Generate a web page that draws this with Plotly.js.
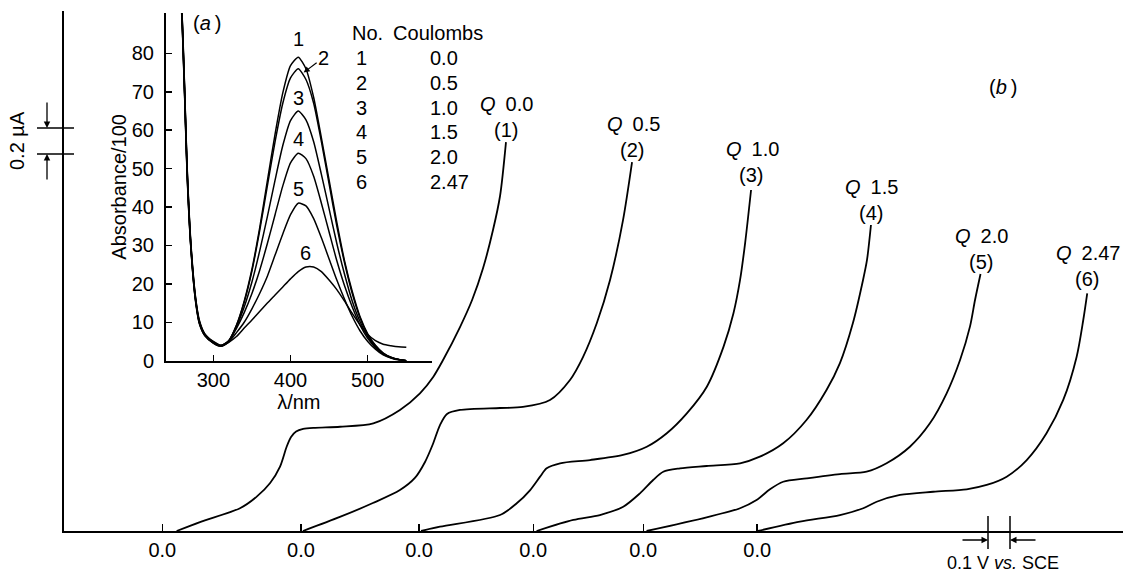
<!DOCTYPE html>
<html><head><meta charset="utf-8">
<script src="https://cdn.plot.ly/plotly-3.0.1.min.js"></script>
<style>html,body{margin:0;padding:0;background:#fff}#chart{width:1123px;height:575px}</style>
</head><body><div id="chart"></div>
<script>
// ---------- (b) polarograms: potential (V, relative to each curve's own 0.0) and current (µA) ----------
const runNumbers = [1, 2, 3, 4, 5, 6];
const coulombs = ['0.0', '0.5', '1.0', '1.5', '2.0', '2.47'];
// position of each curve's "0.0" on the common potential axis (V)
const zeroPositions = [0.447, 1.077, 1.614, 2.133, 2.633, 3.151];
const zeroTickLabels = ['0.0', '0.0', '0.0', '0.0', '0.0', '0.0'];

const potential1 = [0.065,0.171,0.353,0.429,0.490,0.535,0.565,0.585,0.608,0.640,0.694,0.808,0.959,1.080,1.171,1.232,1.276,1.353,1.408,1.458,1.503,1.535,1.562];
const current1   = [0,0.069,0.175,0.264,0.369,0.495,0.648,0.723,0.765,0.785,0.794,0.802,0.828,0.931,1.059,1.187,1.315,1.569,1.777,2.023,2.315,2.577,2.992];
const potential2 = [0.009,0.177,0.327,0.450,0.518,0.564,0.600,0.632,0.664,0.723,0.905,1.009,1.132,1.223,1.282,1.345,1.405,1.464,1.505];
const current2   = [0,0.108,0.215,0.315,0.408,0.531,0.669,0.815,0.900,0.931,0.946,0.954,1.008,1.162,1.338,1.600,1.931,2.392,2.838];
const potential3 = [0.009,0.095,0.368,0.444,0.505,0.550,0.580,0.641,0.777,0.927,1.035,1.126,1.217,1.308,1.384,1.429,1.459,1.482,1.509];
const current3   = [0,0.033,0.123,0.213,0.315,0.418,0.482,0.521,0.546,0.585,0.648,0.752,0.905,1.110,1.418,1.675,1.931,2.215,2.623];
const potential4 = [0.015,0.182,0.303,0.409,0.485,0.545,0.591,0.667,0.788,0.940,1.030,1.136,1.242,1.333,1.394,1.453,1.499,1.517,1.535];
const current4   = [0,0.085,0.123,0.187,0.290,0.392,0.456,0.482,0.500,0.521,0.572,0.675,0.854,1.085,1.292,1.600,1.931,2.085,2.354];
const potential5 = [0.015,0.288,0.440,0.515,0.576,0.636,0.743,0.894,1.015,1.106,1.212,1.303,1.379,1.440,1.485,1.508,1.533];
const current5   = [0,0.105,0.175,0.238,0.321,0.379,0.405,0.438,0.456,0.521,0.648,0.828,1.059,1.315,1.572,1.777,1.977];
const potential6 = [0.003,0.194,0.376,0.482,0.543,0.649,0.800,0.952,1.043,1.134,1.225,1.315,1.391,1.452,1.482,1.500];
const current6   = [0,0.072,0.123,0.175,0.225,0.277,0.302,0.321,0.354,0.418,0.546,0.752,1.008,1.341,1.623,1.828];

// ---------- (a) absorption spectra ----------
const wavelength = [257,260,263,266,271,277,282,289,300,310,320,330,340,350,360,370,380,390,400,410,420,430,440,450,460,470,480,490,500,510,520,530,540,550];
const absorbance1 = [100,88,70,51,30.5,16.5,10.5,7,5,4,5.2,9.2,15.5,23.8,34.5,46.8,59,69.7,76.8,79,76,68.5,58,47,36,26,18,11.5,7,4,2,0.9,0.3,0];
const absorbance2 = [100,87.5,69.5,50.5,30,16.2,10.2,6.9,4.9,4,5.2,9.2,15.2,23.3,33.8,45.5,57,67,73.6,76,73.2,67,57,46,35,25.5,17.5,11.2,6.8,3.9,2,0.9,0.3,0];
const absorbance3 = [100,87,69,50,29.8,16,10,6.8,4.8,3.9,5.1,8.9,14,20.5,28.5,37.5,47,56,62.5,65,62.7,57,48.5,39.5,30.5,22.5,15.5,10.2,6.3,3.6,1.8,0.8,0.3,0];
const absorbance4 = [100,86.5,68.5,49.5,29.5,15.8,9.9,6.7,4.7,3.8,5,8.4,12.5,17.5,23.5,30.5,38,45.5,51.5,54,52.6,48,41,33.5,26,19.5,14,9.3,5.8,3.4,1.7,0.8,0.3,0];
const absorbance5 = [100,86,68,49,29.2,15.6,9.7,6.6,4.6,3.8,4.9,7.3,10,13.5,17.5,22,27.5,33,38,41,40.3,37,32,26.5,21,16,11.5,7.8,5,3,1.5,0.7,0.2,0];
const absorbance6 = [100,85.5,67.5,48.5,29,15.4,9.6,6.5,4.6,3.8,4.8,6.3,8.5,10.6,12.8,15,17.1,19.2,21.3,23.2,24.4,24.4,23.2,21,18.5,15.5,12.3,9.3,6.8,5.2,4.3,3.9,3.6,3.5];
const absTicks = [0,10,20,30,40,50,60,70,80];
const wlTicks = [300,400,500];

// ---------- build ----------
const potentials = [potential1,potential2,potential3,potential4,potential5,potential6];
const currents = [current1,current2,current3,current4,current5,current6];
const spectra = [absorbance1,absorbance2,absorbance3,absorbance4,absorbance5,absorbance6];

const W = 1123, H = 575;
const px = x => x / W;
const py = y => 1 - y / H;
const FONT = 'Liberation Sans, Arial, Helvetica, sans-serif';

const traces = [];
potentials.forEach((pot, k) => {
  traces.push({
    type: 'scatter', mode: 'lines', xaxis: 'x', yaxis: 'y',
    x: pot.map(e => zeroPositions[k] + e), y: currents[k],
    line: {color: '#000', width: 1.8, shape: 'spline', smoothing: 0.8},
    hoverinfo: 'skip'
  });
});
spectra.forEach(a => {
  traces.push({
    type: 'scatter', mode: 'lines', xaxis: 'x2', yaxis: 'y2',
    x: wavelength, y: a,
    line: {color: '#000', width: 1.5, shape: 'spline', smoothing: 0.6},
    hoverinfo: 'skip'
  });
});

const ann = [];
const txt = (x, y, text, extra) => Object.assign({xref: 'paper', yref: 'paper', x: px(x), y: py(y), text, showarrow: false, xanchor: 'center', yanchor: 'middle', font: {size: 20, color: '#000', family: FONT}}, extra || {});

// curve labels (b)
const nShift = [12, 12, 15, 12, 12, 14];
potentials.forEach((pot, k) => {
  const xe = zeroPositions[k] + pot[pot.length - 1];
  const ye = currents[k][currents[k].length - 1];
  ann.push({xref: 'x', yref: 'y', x: xe, y: ye, yshift: nShift[k], text: '(' + runNumbers[k] + ')', showarrow: false, yanchor: 'middle', font: {size: 20, family: FONT}});
  ann.push({xref: 'x', yref: 'y', x: xe, y: ye, yshift: nShift[k] + 26, xshift: 1, text: '<i>Q</i>\u2002' + coulombs[k], showarrow: false, yanchor: 'middle', font: {size: 20, family: FONT}});
});
// inset curve numbers
const inShift = [18, 0, 13, 14, 14, 14];
spectra.forEach((a, k) => {
  if (k === 1) return;
  const m = Math.max(...a.slice(8));
  const i = a.indexOf(m, 8);
  ann.push({xref: 'x2', yref: 'y2', x: wavelength[i], y: m, yshift: inShift[k], text: String(runNumbers[k]), showarrow: false, yanchor: 'middle', font: {size: 20, family: FONT}});
});
// "2" with arrow
ann.push({xref: 'x2', yref: 'y2', x: 417, y: 75, ax: 20, ay: -15, text: String(runNumbers[1]), showarrow: true, arrowhead: 2, arrowsize: 1, arrowwidth: 1.2, arrowcolor: '#000', font: {size: 20, family: FONT}});

// legend table
ann.push(txt(350, 33, 'No.\u2002Coulombs', {xanchor: 'left'}));
runNumbers.forEach((n, i) => {
  ann.push(txt(354, 58 + 24.8 * i, String(n), {xanchor: 'left'}));
  ann.push(txt(428, 58 + 24.8 * i, coulombs[i], {xanchor: 'left'}));
});
// panel labels
ann.push(txt(207, 23, '(<i>a</i>\u2009)'));
ann.push(txt(1003, 87, '(<i>b</i>\u2009)'));
// scale labels
ann.push(txt(17, 141, '0.2 µA', {textangle: -90}));
ann.push(txt(1003, 563, '0.1 V <i>vs.</i> SCE', {font: {size: 18, color: '#000', family: FONT}}));
// scale arrows
const arr = {showarrow: true, text: '', arrowhead: 2, arrowsize: 1, arrowwidth: 1.3, arrowcolor: '#000'};
ann.push(Object.assign({xref: 'paper', yref: 'y', x: px(47), y: 3.1, ax: 0, ay: -27}, arr));
ann.push(Object.assign({xref: 'paper', yref: 'y', x: px(47), y: 2.9, ax: 0, ay: 27}, arr));
ann.push(Object.assign({xref: 'x', yref: 'paper', x: 4.2, y: py(540), ax: -27, ay: 0}, arr));
ann.push(Object.assign({xref: 'x', yref: 'paper', x: 4.3, y: py(540), ax: 27, ay: 0}, arr));

const shapes = [
  {type: 'line', xref: 'paper', yref: 'y', x0: px(37), x1: px(74), y0: 3.1, y1: 3.1, line: {color: '#000', width: 1.5}},
  {type: 'line', xref: 'paper', yref: 'y', x0: px(37), x1: px(74), y0: 2.9, y1: 2.9, line: {color: '#000', width: 1.5}},
  {type: 'line', xref: 'x', yref: 'paper', x0: 4.2, x1: 4.2, y0: py(516), y1: py(549), line: {color: '#000', width: 1.5}},
  {type: 'line', xref: 'x', yref: 'paper', x0: 4.3, x1: 4.3, y0: py(516), y1: py(549), line: {color: '#000', width: 1.5}}
];

const axBase = {showgrid: false, zeroline: false, showline: true, linecolor: '#000', linewidth: 2, color: '#000', tickcolor: '#000', fixedrange: true, tickfont: {size: 20, family: FONT, color: '#000'}};

const layout = {
  width: W, height: H,
  margin: {l: 0, r: 0, t: 0, b: 0, pad: 0},
  paper_bgcolor: '#fff', plot_bgcolor: 'rgba(0,0,0,0)',
  showlegend: false,
  font: {family: FONT, size: 20, color: '#000'},
  xaxis: Object.assign({}, axBase, {domain: [px(64), 1], range: [0, 1059 / 220], anchor: 'y', tickmode: 'array', tickvals: zeroPositions, ticktext: zeroTickLabels, ticks: 'inside', ticklen: 7, tickwidth: 1.5, ticklabelstandoff: 0}),
  yaxis: Object.assign({}, axBase, {domain: [44 / H, 564 / H], range: [0, 4], anchor: 'x', showticklabels: false, ticks: ''}),
  xaxis2: Object.assign({}, axBase, {domain: [px(166), px(431.7)], range: [238.7, 582.9], anchor: 'y2', tickmode: 'array', tickvals: wlTicks, ticks: 'inside', ticklen: 6, tickwidth: 1.5, ticklabelstandoff: 0, title: {text: 'λ/nm', standoff: 0, font: {size: 20, family: FONT}}}),
  yaxis2: Object.assign({}, axBase, {domain: [1 - 360.7 / H, 1 - 13 / H], range: [0, 90.5], anchor: 'x2', tickmode: 'array', tickvals: absTicks, ticks: 'inside', ticklen: 6, tickwidth: 1.5, ticklabelstandoff: 6, title: {text: 'Absorbance/100', standoff: 0, font: {size: 20, family: FONT}}}),
  annotations: ann,
  shapes: shapes
};

Plotly.newPlot('chart', traces, layout, {staticPlot: true, displayModeBar: false});
</script></body></html>
